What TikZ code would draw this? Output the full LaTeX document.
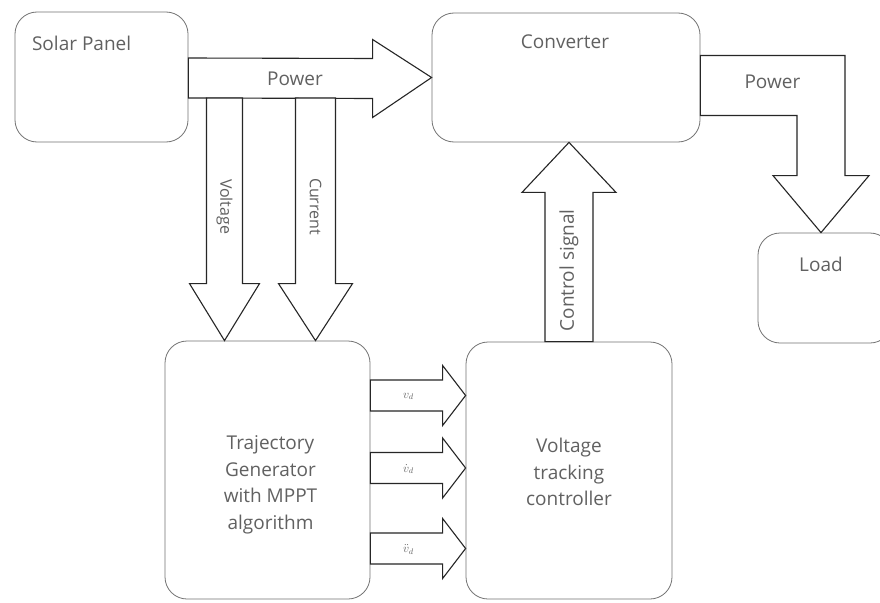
\documentclass[tikz,border=0pt]{standalone}
\usepackage{fontspec}
\setmainfont{Open Sans}
\usetikzlibrary{calc}
\tikzset{
  box/.style={draw=black!55, line width=0.8pt, rounded corners=22pt, inner sep=0pt},
  fat/.style={draw=black!85, line width=1.1pt, fill=white, line join=miter},
  lbl/.style={text=black!62, font=\fontsize{19}{26.5}\selectfont, inner sep=0pt, align=center},
  sml/.style={text=black!62, font=\fontsize{12}{12}\selectfont, inner sep=0pt},
}
\begin{document}
\begin{tikzpicture}[x=1pt, y=-1pt]
\useasboundingbox (0,0) rectangle (880,602);
\clip (0,0) rectangle (880,602);
\fill[white] (0,0) rectangle (880,602);

% boxes
\node[box, minimum width=173pt, minimum height=130pt] (solar) at (101.5,77) {};
\node[box, minimum width=268pt, minimum height=129pt] (conv) at (566,77.5) {};
\node[box, minimum width=134pt, minimum height=110pt] (load) at (825,288) {};
\node[box, minimum width=205pt, minimum height=258pt] (traj) at (267.5,470) {};
\node[box, minimum width=206pt, minimum height=257pt] (vtc) at (569,470.5) {};

% box texts
\node[lbl] (solartxt) at ($(solar.north west)+(67,32)$) {Solar Panel};
\node[lbl] (convtxt) at ($(conv.north)+(-1,29)$) {Converter};
\node[lbl] (loadtxt) at ($(load.north)+(-4,32)$) {Load};
\node[lbl] (trajtxt) at ($(traj.center)+(3,15)$) {Trajectory\\Generator\\with MPPT\\algorithm};
\node[lbl] (vtctxt) at ($(vtc.center)+(0,1.5)$) {Voltage\\tracking\\controller};

% Power: solar -> converter
\coordinate (ptip) at (conv.west);
\coordinate (pb) at ($(solar.east)+(0,21)$);
\draw[fat] ($(solar.east)+(0,-19)$) -- ($(ptip)+(-59,-19)$) -- ($(ptip)+(-59,-38)$) -- (ptip)
  -- ($(ptip)+(-59,40)$) -- ($(ptip)+(-59,21)$) -- (pb) -- cycle;
\node[lbl] (powa) at ($(solar.east)!0.5!(ptip)+(-15,2)$) {Power};

% Voltage and Current: solar/power -> trajectory generator
\coordinate (vt) at ($(traj.north)+(-43,0)$);
\draw[fat] (vt) -- ++(-35,-57) -- ++(17,0) -- ($(vt|-pb)+(-18,0)$) -- ($(vt|-pb)+(18,0)$)
  -- ($(vt)+(18,-57)$) -- ++(17,0) -- cycle;
\node[lbl, rotate=-90, font=\fontsize{16}{16}\selectfont] (vlab) at ($(vt)+(0,-134)$) {Voltage};

\coordinate (ct) at ($(traj.north)+(48,0)$);
\draw[fat] (ct) -- ++(-37,-57) -- ++(17,0) -- ($(ct|-pb)+(-20,0)$) -- ($(ct|-pb)+(20,0)$)
  -- ($(ct)+(20,-57)$) -- ++(17,0) -- cycle;
\node[lbl, rotate=-90, font=\fontsize{16}{16}\selectfont] (clab) at ($(ct)+(0,-134)$) {Current};

% Control signal: controller -> converter
\coordinate (cst) at ($(conv.south)+(3,0)$);
\draw[fat] (cst) -- ++(-47,50) -- ++(23,0) -- ($(cst|-vtc.north)+(-24,0)$) -- ($(cst|-vtc.north)+(24,0)$)
  -- ($(cst)+(24,50)$) -- ++(23,0) -- cycle;
\node[lbl, rotate=90] (cslab) at ($(cst)+(0,128)$) {Control signal};

% Power: converter -> load
\coordinate (lt) at ($(load.north)+(-4,0)$);
\draw[fat] (lt) -- ++(-48,-57) -- ++(24,0) |- ($(conv.east)+(0,38)$) -- ($(conv.east)+(0,-22)$)
  -| ($(lt)+(24,-57)$) -- ++(24,0) -- cycle;
\node[lbl] (powb) at ($(conv.east)+(72,4)$) {Power};

% trajectory signals: generator -> controller
\coordinate (a1) at ($(vtc.west)+(0,-75)$);
\coordinate (a2) at ($(vtc.west)+(0,-2.5)$);
\coordinate (a3) at ($(vtc.west)+(0,78)$);
\foreach \a in {a1,a2,a3}{
  \draw[fat] (\a) -- ++(-23,-30) -- ++(0,14.5) -- ($(\a -| traj.east)+(0,-15.5)$)
    -- ($(\a -| traj.east)+(0,15.5)$) -- ($(\a)+(-23,15.5)$) -- ++(0,14.5) -- cycle;
}
\node[sml] (s1) at ($(a1 -| traj.east)+(38,1)$) {$v_d$};
\node[sml] (s2) at ($(a2 -| traj.east)+(38,1)$) {$\dot{v}_d$};
\node[sml] (s3) at ($(a3 -| traj.east)+(38,1)$) {$\ddot{v}_d$};
\end{tikzpicture}
\end{document}
